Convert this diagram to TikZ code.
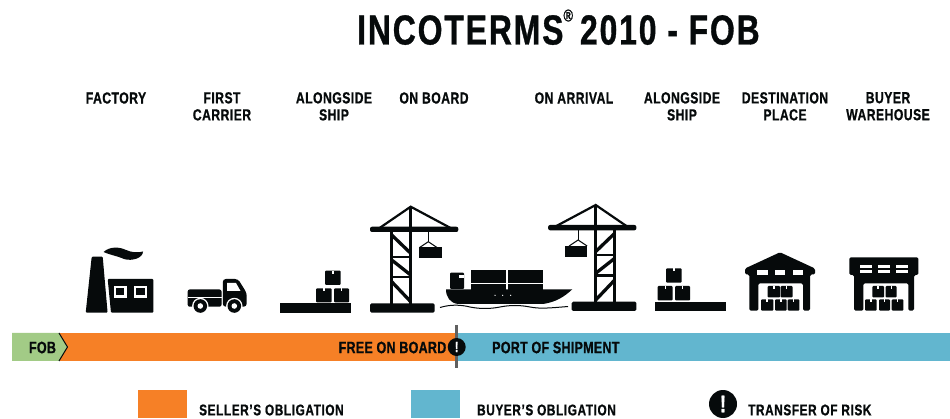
\documentclass[tikz,border=0pt]{standalone}
\usepackage{fontspec}
\setmainfont[FakeStretch=0.76,BoldFeatures={FakeBold=0.8}]{Liberation Sans}
\definecolor{ink}{HTML}{060A0B}
\definecolor{sellerorange}{HTML}{F68026}
\definecolor{buyerblue}{HTML}{62B6CF}
\definecolor{fobgreen}{HTML}{A2CB86}
\newcommand{\pkg}[4]{% x0 y0 x1 y1
  \fill[ink,rounded corners=1pt] (#1,#2) rectangle (#3,#4);
  \fill[white] ({(#1+#3)/2-0.7},#2) rectangle ({(#1+#3)/2+0.7},{#2+3.2});
}
\tikzset{
  head/.style={font=\fontsize{16}{17}\selectfont\bfseries\addfontfeature{LetterSpace=3},align=center,text=ink,inner sep=0pt},
  bartext/.style={font=\fontsize{16.5}{17}\selectfont\bfseries\addfontfeature{LetterSpace=1.5},text=ink,inner sep=0pt},
  legendtext/.style={font=\fontsize{15.5}{17}\selectfont\bfseries\addfontfeature{LetterSpace=4},text=ink,inner sep=0pt},
  strut/.style={ink,line width=3.3pt},
  thinstrut/.style={ink,line width=1pt},
  crane/.pic={
    \fill[ink,rounded corners=1.5pt] (-40.7,-9.4) rectangle (24,0);
    \fill[ink,rounded corners=2pt] (-40.7,-86) rectangle (47.6,-80.7);
    \draw[strut] (0,-106) -- (0,-9);
    \draw[strut] (-19,-83) -- (-19,-9);
    \draw[strut,line width=2.2pt] (-19,-56) -- (0,-56);
    \draw[strut,line width=2.2pt] (-19,-35.4) -- (0,-35.4);
    \draw[strut] (-19,-77.7) -- (0,-59.4);
    \draw[strut] (-19,-52.7) -- (0,-37.7);
    \draw[strut] (-19,-31) -- (0,-11);
    \draw[strut,line width=2.2pt] (-30.7,-85) -- (0,-106) -- (39.3,-85);
    \draw[thinstrut] (17.6,-81) -- (17.6,-71);
    \draw[thinstrut] (8.6,-65) -- (17.6,-71) -- (26.6,-65);
    \fill[ink] (8.6,-65.4) rectangle (31,-54.4);
  }
}
\begin{document}
\begin{tikzpicture}[x=1pt,y=-1pt]
\useasboundingbox (0,0) rectangle (950,419);
\fill[white] (0,0) rectangle (950,419);

% title
\node[inner sep=0pt,text=ink,anchor=base west,font=\fontsize{42}{44}\selectfont\bfseries\addfontfeature{LetterSpace=4.4}] (title) at (357,44.5)
  {INCOTERMS\raisebox{0.55em}{\fontsize{17}{17}\selectfont\textregistered}\,2010 - FOB};

% column heads
\node[head] (h1) at (116,98) {FACTORY};
\node[head,anchor=north] (h2) at (222,92) {FIRST\\CARRIER};
\node[head,anchor=north] (h3) at (334,92) {ALONGSIDE\\SHIP};
\node[head] (h4) at (434,98) {ON BOARD};
\node[head] (h5) at (574,98) {ON ARRIVAL};
\node[head,anchor=north] (h6) at (682,92) {ALONGSIDE\\SHIP};
\node[head,anchor=north] (h7) at (785,92) {DESTINATION\\PLACE};
\node[head,anchor=north] (h8) at (888,92) {BUYER\\WAREHOUSE};

% factory
\fill[ink,rounded corners=1pt] (85.7,312.7) -- (91.7,256.7) -- (102.7,256.7) -- (107.6,312.7) -- cycle;
\fill[ink,rounded corners=1pt] (107.7,279) -- (153.3,279) -- (153.3,312.7) -- (111,312.7) -- cycle;
\fill[white] (114,285.7) rectangle (126.7,297.7);
\fill[white] (134,285.7) rectangle (147,297.7);
\fill[ink] (116.3,288) rectangle (124.4,295.4);
\fill[ink] (136.3,288) rectangle (144.7,295.4);
\fill[ink] (103.5,252) .. controls (110,246) and (120,247) .. (126,250) .. controls (132,252.5) and (138,253) .. (143,251.5)
  .. controls (143,258) and (132,261.5) .. (124,259) .. controls (116,255.5) and (110,255) .. (103.5,252) -- cycle;

% truck
\fill[ink,rounded corners=2pt] (187.7,289.5) -- (221.5,289.5) -- (221.5,306.7) -- (187.7,306.7) -- cycle;
\fill[ink,rounded corners=3pt] (222.8,279) -- (238,279) -- (246.7,293) -- (246.7,306.7) -- (222.8,306.7) -- cycle;
\fill[white] (227,283) -- (236,283) -- (240.5,291) -- (227,291) -- cycle;
\fill[white] (187.7,297) rectangle (221.5,298);
\fill[white] (200.3,306) circle (8.2);
\fill[white] (234.3,306) circle (8.2);
\fill[ink] (200.3,306) circle (6.8);
\fill[ink] (234.3,306) circle (6.8);
\fill[white] (200.3,306) circle (2.8);
\fill[white] (234.3,306) circle (2.8);

% pallet with boxes, port of loading
\fill[ink] (280,303.3) rectangle (350.7,312.7);
\pkg{316}{288.3}{331.7}{302.5}
\pkg{334}{288.3}{349}{302.5}
\pkg{325}{270.7}{340.7}{285}

% cranes
\pic (craneA) at (410.7,312.7) {crane};
\pic[xscale=-1] (craneB) at (595.7,311) {crane};

% ship
\fill[ink,rounded corners=1pt] (450,272.7) rectangle (464,289);
\fill[white] (458.5,275) rectangle (464.2,278.3);
\fill[ink] (471,270) rectangle (506,282.7);
\fill[ink] (507.7,270) rectangle (543.3,282.7);
\fill[ink] (471,284) rectangle (506,291);
\fill[ink] (507.7,284) rectangle (543.3,291);
\fill[ink] (446,289.3) -- (572.3,289.3) .. controls (564,297) and (556,302) .. (543,304) -- (458,304) .. controls (450,303) and (446,297) .. (446,289.3) -- cycle;
\fill[white] (495,295.3) circle (0.7) (502.7,295.3) circle (0.7) (510.7,295.3) circle (0.7);
\draw[ink,line width=1pt] (440,307.5) .. controls (450,304.5) and (460,304.5) .. (470,307)
  .. controls (480,309) and (490,309) .. (500,307) .. controls (510,305) and (520,305) .. (530,307)
  .. controls (540,309) and (550,308) .. (568,306.5);

% pallet with boxes, port of arrival
\fill[ink] (655.3,301.7) rectangle (726,310.7);
\pkg{657.7}{286}{672.7}{300.5}
\pkg{675}{286}{690}{300.5}
\pkg{666}{268.3}{681.7}{282.7}

% destination warehouse
\fill[ink,rounded corners=1.5pt] (745,268.5) -- (780,252.3) -- (815,268.5) -- (815,274.5) -- (810,274.5) -- (810,283.3) -- (810,310.7)
  -- (803,310.7) -- (803,283.3) -- (758.3,283.3) -- (758.3,310.7) -- (749.3,310.7) -- (749.3,274.5) -- (745,274.5) -- cycle;
\fill[white] (756.7,270) rectangle (768.3,275);
\fill[white] (775,270) rectangle (785,275);
\fill[white] (792.7,270) rectangle (803.3,275);
\pkg{767.7}{286}{780}{297.5}
\pkg{780.7}{286}{792.7}{297.5}
\pkg{761}{299.3}{773.3}{310.7}
\pkg{775}{299.3}{786.7}{310.7}
\pkg{787.7}{299.3}{799.3}{310.7}

% buyer warehouse
\fill[ink,rounded corners=1.5pt] (849.3,257.3) -- (918.3,257.3) -- (918.3,275) -- (914,275) -- (914,310.7) -- (908.3,310.7) -- (908.3,283.3)
  -- (863.3,283.3) -- (863.3,310.7) -- (854,310.7) -- (854,275) -- (849.3,275) -- cycle;
\foreach \xa/\xb in {860/871.7,878.3/890,896/907.7}{
  \fill[white] (\xa,265) rectangle (\xb,268.3);
  \fill[white] (\xa,270) rectangle (\xb,273.3);
}
\pkg{872.3}{286}{884}{297.5}
\pkg{885.7}{286}{896.7}{297.5}
\pkg{865}{299.3}{876.7}{310.7}
\pkg{879}{299.3}{890}{310.7}
\pkg{891.7}{299.3}{903.3}{310.7}

% obligation bar
\fill[buyerblue] (456.7,333) rectangle (950,361);
\fill[sellerorange] (60,333) rectangle (456.7,361);
\fill[fobgreen] (12,333) -- (59,333) -- (67.5,347) -- (59,361) -- (12,361) -- cycle;
\draw[ink,line width=1pt] (59,333) -- (67.5,347) -- (59,361);
\node[bartext] (fob) at (42.5,347.5) {FOB};
\node[bartext,anchor=east] (free) at (446.5,347.5) {FREE ON BOARD};
\node[bartext,anchor=west] (port) at (492,347.5) {PORT OF SHIPMENT};
\draw[gray!75!black,line width=2.6pt] (456.7,325) -- (456.7,368);
\node[circle,fill=ink,minimum size=18pt,inner sep=0pt,text=white,font=\fontsize{15}{15}\selectfont\bfseries] (risk) at (456.7,347) {!};

% legend
\fill[sellerorange] (138,390) rectangle (187,418);
\fill[buyerblue] (411,390) rectangle (460,418);
\node[legendtext,anchor=west] (l1) at (199,410) {SELLER'S OBLIGATION};
\node[legendtext,anchor=west] (l2) at (477,410) {BUYER'S OBLIGATION};
\node[circle,fill=ink,minimum size=28pt,inner sep=0pt,text=white,font=\fontsize{24}{24}\selectfont\bfseries] (riskkey) at (723,404) {!};
\node[legendtext,anchor=west] (l3) at (748,410) {TRANSFER OF RISK};
\end{tikzpicture}
\end{document}
